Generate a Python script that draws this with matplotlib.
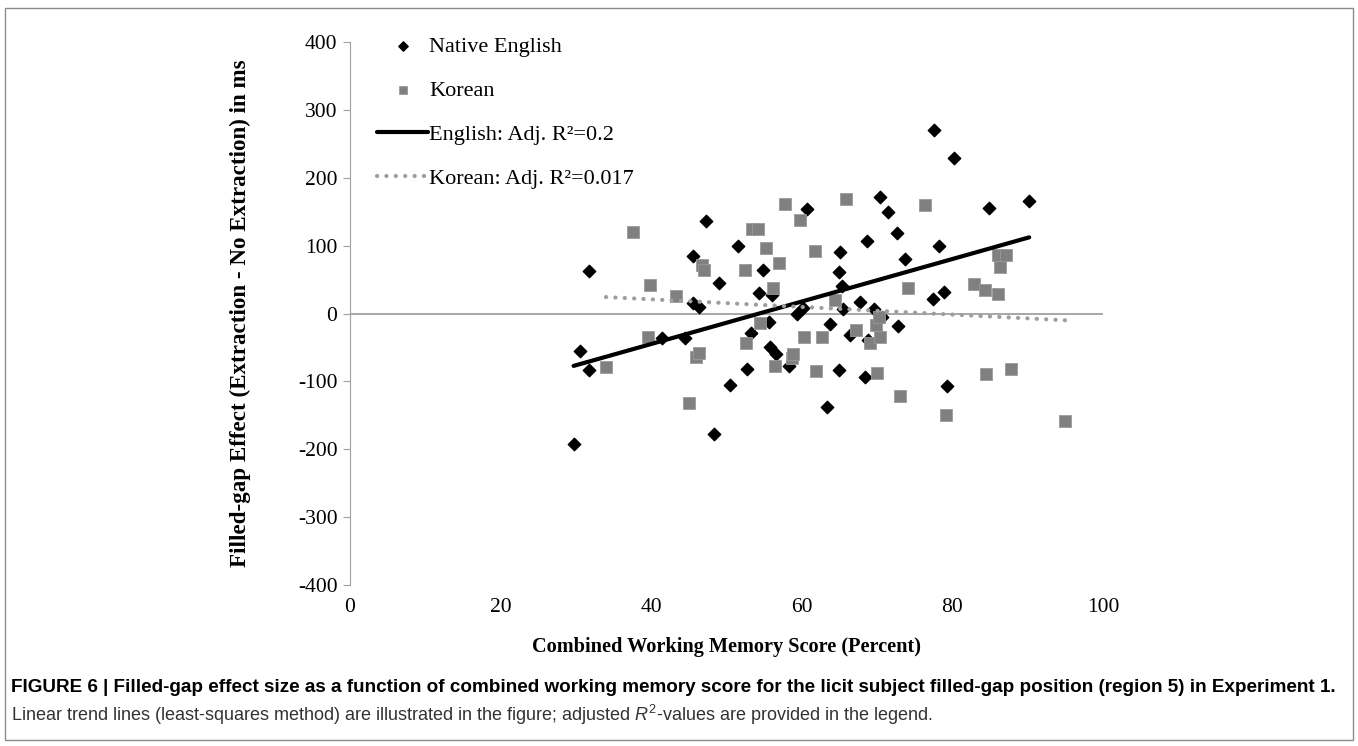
import numpy as np
import matplotlib.pyplot as plt
from matplotlib.patches import Rectangle

plt.rcParams['font.family'] = ['Liberation Serif', 'DejaVu Serif']
plt.rcParams['mathtext.fontset'] = 'custom'
plt.rcParams['mathtext.it'] = 'Liberation Sans:italic'
plt.rcParams['mathtext.rm'] = 'Liberation Sans'
plt.rcParams['axes.unicode_minus'] = False

# Native English speakers (diamonds): working memory score, filled-gap effect (ms)
eng_x = [29.7, 30.5, 31.7, 31.8, 41.5, 44.5, 45.5, 45.6, 46.3, 47.3,
         48.4, 49.0, 50.5, 51.5, 52.7, 53.2, 54.3, 54.8, 55.7, 55.8,
         56.6, 56.0, 58.3, 59.4, 60.2, 60.7, 63.4, 63.8, 64.9, 65.1,
         65.0, 65.3, 65.5, 66.4, 67.8, 68.4, 68.6, 68.8, 69.6, 70.7,
         70.4, 71.5, 72.7, 72.8, 73.7, 77.4, 77.6, 78.2, 78.9, 79.3,
         80.2, 84.8, 90.2]
eng_y = [-192, -55, 62, -83, -36, -36, 85, 16, 10, 136,
         -177, 45, -105, 100, -82, -28, 30, 64, -13, -50,
         -59, 27, -77, 0, 8, 154, -138, -16, -83, 90,
         61, 41, 7, -32, 17, -93, 107, -39, 7, -5,
         171, 150, 118, -19, 81, 22, 271, 100, 32, -107,
         229, 156, 166]

# Korean speakers (squares)
kor_x = [34.0, 37.6, 39.6, 39.8, 43.3, 45.0, 46.0, 46.3, 46.7, 47.0,
         52.5, 52.6, 53.4, 54.2, 54.5, 55.3, 56.2, 56.4, 57.0, 57.8,
         58.7, 58.9, 59.8, 60.3, 61.8, 61.9, 62.7, 64.4, 65.9, 67.2,
         69.0, 69.9, 70.0, 70.3, 70.4, 73.0, 74.1, 76.3, 79.2, 82.9,
         84.3, 84.5, 86.1, 87.1, 86.3, 86.1, 87.8, 95.0]
kor_y = [-79, 120, -34, 42, 26, -132, -64, -58, 71, 64,
         64, -43, 124, 124, -14, 96, 37, -77, 75, 162,
         -65, -59, 138, -34, 92, -84, -34, 20, 168, -24,
         -43, -17, -87, -5, -35, -122, 38, 160, -150, 43,
         35, -89, 86, 86, 69, 29, -82, -158]

eng_r2 = '0.2'
kor_r2 = '0.017'

fig = plt.figure(figsize=(13.58, 7.46), dpi=100)
ax = fig.add_axes([0.2577, 0.2158, 0.5545, 0.7279])

ax.scatter(eng_x, eng_y, marker='D', s=40, color='black', zorder=3, label='Native English')
ax.scatter(kor_x, kor_y, marker='s', s=68, color='#808080', edgecolor='#9a9a9a',
           linewidth=0.6, zorder=3, label='Korean')

# least-squares trend lines over each group's range
for xs, ys, style in [(eng_x, eng_y, 'eng'), (kor_x, kor_y, 'kor')]:
    k, b = np.polyfit(xs, ys, 1)
    xx = np.array([min(xs), max(xs)])
    if style == 'eng':
        ax.plot(xx, k * xx + b, color='black', lw=3, solid_capstyle='round', zorder=4,
                label='English: Adj. R\u00b2=' + eng_r2)
    else:
        ax.plot(xx, k * xx + b, color='#9e9e9e', lw=3, linestyle=(0, (0.05, 2.2)),
                dash_capstyle='round', zorder=4, label='Korean: Adj. R\u00b2=' + kor_r2)

ax.axhline(0, color='#a0a0a0', lw=1.3, zorder=1)

ax.set_xlim(0, 100)
ax.set_ylim(-400, 400)
ax.set_xticks(range(0, 101, 20))
ax.set_yticks(range(-400, 401, 100))
for s in ['top', 'right', 'bottom']:
    ax.spines[s].set_visible(False)
ax.spines['left'].set_color('#a0a0a0')
ax.tick_params(axis='y', length=5, color='#a0a0a0', labelsize=15.5, pad=4)
ax.tick_params(axis='x', length=0, labelsize=15.5, pad=9)

ax.set_ylabel('Filled-gap Effect (Extraction - No Extraction) in ms', fontsize=16.6, fontweight='bold')
ax.yaxis.set_label_coords(-0.131, 0.5)
ax.set_xlabel('Combined Working Memory Score (Percent)', fontsize=14.6, fontweight='bold')
ax.xaxis.set_label_coords(0.5, -0.096)

ax.legend(loc='upper left', bbox_to_anchor=(0.036, 1.01), frameon=False, fontsize=16,
          labelspacing=1.05, handlelength=2.3, handletextpad=0.05, borderpad=0,
          borderaxespad=0, markerscale=0.75)

fig.text(0.008, 0.079, 'FIGURE 6 | Filled-gap effect size as a function of combined working memory score '
         'for the licit subject filled-gap position (region 5) in Experiment 1.',
         family='Liberation Sans', fontweight='bold', fontsize=13.6, va='center')
fig.text(0.008, 0.041, 'Linear trend lines (least-squares method) are illustrated in the figure; '
         r'adjusted $R^2$-values are provided in the legend.',
         family='Liberation Sans', fontsize=13, va='center', color='#333333')

fig.patches.append(Rectangle((0.004, 0.008), 0.992, 0.981, transform=fig.transFigure,
                             fill=False, edgecolor='#8c8c8c', lw=1))

fig.savefig('out.png', dpi=100)
